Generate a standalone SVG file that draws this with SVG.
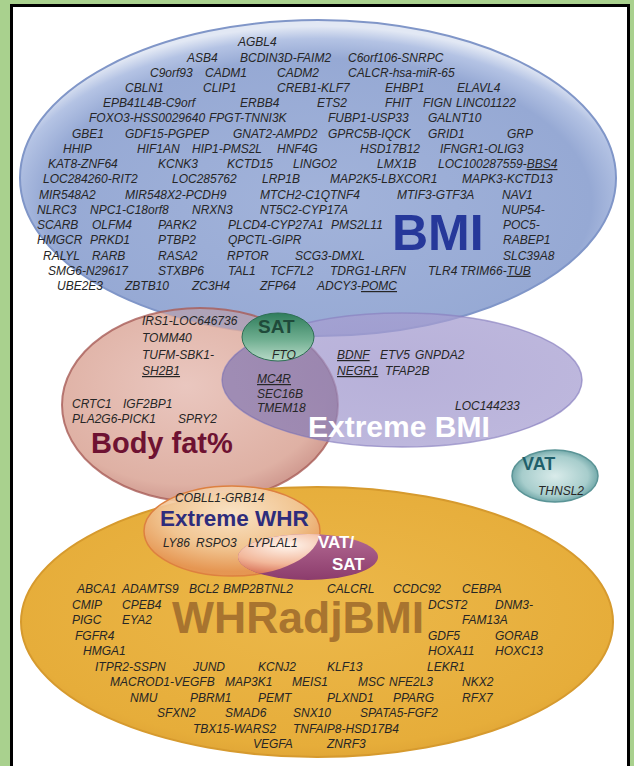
<svg xmlns="http://www.w3.org/2000/svg" width="634" height="766" viewBox="0 0 634 766">
<defs>
<style>
.g{font-family:"Liberation Sans",Arial,sans-serif;font-style:italic;font-size:12px;fill:#262626}
.u{text-decoration:underline}
.lbl{font-family:"Liberation Sans",Arial,sans-serif;font-weight:bold}
</style>
<radialGradient id="gBMI" cx="0.5" cy="0.58" r="0.56">
<stop offset="0" stop-color="#a2b3da"/>
<stop offset="0.82" stop-color="#96a9d4"/>
<stop offset="0.93" stop-color="#b4c3e4"/>
<stop offset="1" stop-color="#e2e8f4"/>
</radialGradient>
<radialGradient id="gFat" cx="0.45" cy="0.4" r="0.6">
<stop offset="0" stop-color="#e6bdb4"/>
<stop offset="0.85" stop-color="#d9a394"/>
<stop offset="1" stop-color="#c98a7e"/>
</radialGradient>
<radialGradient id="gXB" cx="0.5" cy="0.45" r="0.6">
<stop offset="0" stop-color="#9f96cc"/>
<stop offset="1" stop-color="#a8a0d2"/>
</radialGradient>
<linearGradient id="gSAT" x1="0" y1="0" x2="0" y2="1">
<stop offset="0" stop-color="#2f7d5c"/>
<stop offset="0.55" stop-color="#6fae90"/>
<stop offset="1" stop-color="#b9dbc9"/>
</linearGradient>
<radialGradient id="gVAT" cx="0.5" cy="0.5" r="0.55">
<stop offset="0" stop-color="#d9ebea"/>
<stop offset="0.7" stop-color="#a7cdcc"/>
<stop offset="1" stop-color="#5f9b9d"/>
</radialGradient>
<radialGradient id="gWHR" cx="0.5" cy="0.45" r="0.6">
<stop offset="0" stop-color="#ecb84a"/>
<stop offset="0.85" stop-color="#e6ad3a"/>
<stop offset="1" stop-color="#dca033"/>
</radialGradient>
<radialGradient id="gXW" cx="0.5" cy="0.3" r="0.65">
<stop offset="0" stop-color="#fbe8d4"/>
<stop offset="0.6" stop-color="#f2c79a"/>
<stop offset="1" stop-color="#e59354"/>
</radialGradient>
<linearGradient id="gVS" x1="0" y1="0" x2="0" y2="1">
<stop offset="0" stop-color="#b36a93"/>
<stop offset="1" stop-color="#8c3c6c"/>
</linearGradient>
<radialGradient id="gLY" cx="0.35" cy="0.25" r="0.8">
<stop offset="0" stop-color="#fff6ee"/>
<stop offset="0.5" stop-color="#f2b79a"/>
<stop offset="1" stop-color="#c8452c"/>
</radialGradient>
<clipPath id="cXW"><ellipse cx="232" cy="531" rx="88" ry="45"/></clipPath>
<clipPath id="cFat"><ellipse cx="200" cy="405" rx="138" ry="97"/></clipPath>
</defs>

<rect x="0" y="0" width="634" height="766" fill="#a9d18e"/>
<rect x="11.5" y="5.5" width="617" height="800" fill="#ffffff" stroke="#000000" stroke-width="3"/>

<g id="BMI">
<ellipse cx="318" cy="178" rx="298" ry="158" fill="url(#gBMI)" stroke="#8096c8" stroke-width="2"/>
</g>
<g id="BodyFat">
<ellipse cx="200" cy="405" rx="138" ry="97" fill="url(#gFat)" fill-opacity="0.85"/>
<ellipse cx="318" cy="178" rx="298" ry="158" fill="#8c9ccc" fill-opacity="0.5" clip-path="url(#cFat)"/>
<ellipse cx="200" cy="405" rx="138" ry="97" fill="none" stroke="#a85c58" stroke-width="2" stroke-opacity="0.8"/>
</g>
<g id="ExtremeBMI">
<ellipse cx="402" cy="380" rx="180" ry="67" fill="url(#gXB)" fill-opacity="0.75" stroke="#8a82c0" stroke-width="1.5" stroke-opacity="0.7"/>
<ellipse cx="402" cy="380" rx="180" ry="67" fill="#6a4f80" fill-opacity="0.3" clip-path="url(#cFat)"/>
</g>
<g id="WHRadjBMI">
<ellipse cx="317" cy="622" rx="296" ry="135" fill="url(#gWHR)" stroke="#d69a2e" stroke-width="2"/>
</g>
<g id="ExtremeWHR">
<ellipse cx="232" cy="531" rx="88" ry="45" fill="url(#gXW)" fill-opacity="0.9" stroke="#dd8040" stroke-width="1.5"/>
</g>
<g id="VATSAT">
<ellipse cx="308" cy="557" rx="70" ry="23" fill="url(#gVS)"/>
<ellipse cx="308" cy="557" rx="70" ry="23" fill="url(#gLY)" clip-path="url(#cXW)"/>
</g>
<g id="SAT">
<ellipse cx="278" cy="337" rx="36" ry="24" fill="url(#gSAT)" stroke="#2f6f55" stroke-width="1"/>
</g>
<g id="VAT">
<ellipse cx="555" cy="476" rx="43" ry="26" fill="url(#gVAT)" stroke="#5a9496" stroke-width="1.5"/>
</g>

<g id="connectors"/>

<g id="BMI-labels">
<text class="g" x="238" y="46">AGBL4</text>
<text class="g" y="61.5"><tspan x="187">ASB4</tspan><tspan x="240">BCDIN3D-FAIM2</tspan><tspan x="348">C6orf106-SNRPC</tspan></text>
<text class="g" y="76.5"><tspan x="150">C9orf93</tspan><tspan x="205">CADM1</tspan><tspan x="277">CADM2</tspan><tspan x="348">CALCR-hsa-miR-65</tspan></text>
<text class="g" y="91.75"><tspan x="125">CBLN1</tspan><tspan x="203">CLIP1</tspan><tspan x="277">CREB1-KLF7</tspan><tspan x="385">EHBP1</tspan><tspan x="457">ELAVL4</tspan></text>
<text class="g" y="107"><tspan x="103">EPB41L4B-C9orf</tspan><tspan x="240">ERBB4</tspan><tspan x="317">ETS2</tspan><tspan x="385">FHIT</tspan><tspan x="423">FIGN</tspan><tspan x="456">LINC01122</tspan></text>
<text class="g" y="122.25"><tspan x="89">FOXO3-HSS0029640</tspan><tspan x="209">FPGT-TNNI3K</tspan><tspan x="328">FUBP1-USP33</tspan><tspan x="428">GALNT10</tspan></text>
<text class="g" y="137.5"><tspan x="72">GBE1</tspan><tspan x="125">GDF15-PGPEP</tspan><tspan x="233">GNAT2-AMPD2</tspan><tspan x="328">GPRC5B-IQCK</tspan><tspan x="428">GRID1</tspan><tspan x="507">GRP</tspan></text>
<text class="g" y="152.75"><tspan x="63">HHIP</tspan><tspan x="137">HIF1AN</tspan><tspan x="192">HIP1-PMS2L</tspan><tspan x="277">HNF4G</tspan><tspan x="360">HSD17B12</tspan><tspan x="440">IFNGR1-OLIG3</tspan></text>
<text class="g" y="168"><tspan x="48">KAT8-ZNF64</tspan><tspan x="158">KCNK3</tspan><tspan x="227">KCTD15</tspan><tspan x="293">LINGO2</tspan><tspan x="377">LMX1B</tspan><tspan x="438">LOC100287559-</tspan><tspan class="u">BBS4</tspan></text>
<text class="g" y="183.25"><tspan x="43">LOC284260-RIT2</tspan><tspan x="172">LOC285762</tspan><tspan x="262">LRP1B</tspan><tspan x="330">MAP2K5-LBXCOR1</tspan><tspan x="462">MAPK3-KCTD13</tspan></text>
<text class="g" y="198.5"><tspan x="39">MIR548A2</tspan><tspan x="125">MIR548X2-PCDH9</tspan><tspan x="260">MTCH2-C1QTNF4</tspan><tspan x="397">MTIF3-GTF3A</tspan><tspan x="502">NAV1</tspan></text>
<text class="g" y="213.75"><tspan x="37">NLRC3</tspan><tspan x="90">NPC1-C18orf8</tspan><tspan x="192">NRXN3</tspan><tspan x="260">NT5C2-CYP17A</tspan><tspan x="502">NUP54-</tspan></text>
<text class="g" y="229"><tspan x="37">SCARB</tspan><tspan x="92">OLFM4</tspan><tspan x="158">PARK2</tspan><tspan x="228">PLCD4-CYP27A1</tspan><tspan x="331">PMS2L11</tspan><tspan x="503">POC5-</tspan></text>
<text class="g" y="244.25"><tspan x="37">HMGCR</tspan><tspan x="90">PRKD1</tspan><tspan x="158">PTBP2</tspan><tspan x="228">QPCTL-GIPR</tspan><tspan x="503">RABEP1</tspan></text>
<text class="g" y="259.5"><tspan x="43">RALYL</tspan><tspan x="92">RARB</tspan><tspan x="158">RASA2</tspan><tspan x="227">RPTOR</tspan><tspan x="295">SCG3-DMXL</tspan><tspan x="503">SLC39A8</tspan></text>
<text class="g" y="274.75"><tspan x="48">SMG6-N29617</tspan><tspan x="158">STXBP6</tspan><tspan x="228">TAL1</tspan><tspan x="270">TCF7L2</tspan><tspan x="330">TDRG1-LRFN</tspan><tspan x="428">TLR4</tspan><tspan x="460">TRIM66-</tspan><tspan class="u">TUB</tspan></text>
<text class="g" y="290"><tspan x="57">UBE2E3</tspan><tspan x="125">ZBTB10</tspan><tspan x="192">ZC3H4</tspan><tspan x="260">ZFP64</tspan><tspan x="317">ADCY3-</tspan><tspan class="u">POMC</tspan></text>
<text class="lbl" x="392" y="250" font-size="50" fill="#26389a">BMI</text>
</g>

<g id="mid-labels">
<text class="g" x="142" y="325">IRS1-LOC646736</text>
<text class="g" x="142" y="342">TOMM40</text>
<text class="g" x="142" y="359">TUFM-SBK1-</text>
<text class="g u" x="142" y="375">SH2B1</text>
<text class="lbl" x="258" y="333" font-size="19" fill="#1f4a3a">SAT</text>
<text class="g" x="272" y="359">FTO</text>
<text class="g" y="359"><tspan x="337" class="u">BDNF</tspan><tspan x="380">ETV5</tspan><tspan x="415">GNPDA2</tspan></text>
<text class="g" y="375"><tspan x="337" class="u">NEGR1</tspan><tspan x="385">TFAP2B</tspan></text>
<text class="g u" x="257" y="383">MC4R</text>
<text class="g" x="257" y="398">SEC16B</text>
<text class="g" x="257" y="412">TMEM18</text>
<text class="g" y="408"><tspan x="72">CRTC1</tspan><tspan x="123">IGF2BP1</tspan></text>
<text class="g" y="423"><tspan x="72">PLA2G6-PICK1</tspan><tspan x="178">SPRY2</tspan></text>
<text class="g" x="455" y="410">LOC144233</text>
<text class="lbl" x="308" y="437" font-size="30" fill="#ffffff">Extreme BMI</text>
<text class="lbl" x="91" y="453" font-size="29" fill="#6e1232">Body fat%</text>
<text class="lbl" x="522" y="470" font-size="18" fill="#1f5f6a">VAT</text>
<text class="g" x="538" y="495" font-size="11.5">THNSL2</text>
</g>

<g id="WHR-labels">
<text class="g" x="175" y="502">COBLL1-GRB14</text>
<text class="lbl" x="160" y="526" font-size="22.5" fill="#2e2c7c">Extreme WHR</text>
<text class="g" y="547"><tspan x="163">LY86</tspan><tspan x="196">RSPO3</tspan><tspan x="248">LYPLAL1</tspan></text>
<text class="lbl" x="318" y="548" font-size="17" fill="#ffffff">VAT/</text>
<text class="lbl" x="332" y="570" font-size="17" fill="#ffffff">SAT</text>
<text class="lbl" x="172" y="633" font-size="44.5" fill="#a8742f">WHRadjBMI</text>
<text class="g" y="593"><tspan x="77">ABCA1</tspan><tspan x="122">ADAMTS9</tspan><tspan x="189">BCL2</tspan><tspan x="223">BMP2BTNL2</tspan><tspan x="327">CALCRL</tspan><tspan x="393">CCDC92</tspan><tspan x="462">CEBPA</tspan></text>
<text class="g" y="608.5"><tspan x="72">CMIP</tspan><tspan x="122">CPEB4</tspan><tspan x="428">DCST2</tspan><tspan x="495">DNM3-</tspan></text>
<text class="g" y="624"><tspan x="72">PIGC</tspan><tspan x="122">EYA2</tspan><tspan x="462">FAM13A</tspan></text>
<text class="g" y="639.5"><tspan x="75">FGFR4</tspan><tspan x="428">GDF5</tspan><tspan x="495">GORAB</tspan></text>
<text class="g" y="655"><tspan x="83">HMGA1</tspan><tspan x="428">HOXA11</tspan><tspan x="495">HOXC13</tspan></text>
<text class="g" y="670.5"><tspan x="95">ITPR2-SSPN</tspan><tspan x="193">JUND</tspan><tspan x="258">KCNJ2</tspan><tspan x="327">KLF13</tspan><tspan x="427">LEKR1</tspan></text>
<text class="g" y="686"><tspan x="110">MACROD1-VEGFB</tspan><tspan x="225">MAP3K1</tspan><tspan x="292">MEIS1</tspan><tspan x="358">MSC</tspan><tspan x="389">NFE2L3</tspan><tspan x="462">NKX2</tspan></text>
<text class="g" y="701.5"><tspan x="130">NMU</tspan><tspan x="190">PBRM1</tspan><tspan x="258">PEMT</tspan><tspan x="327">PLXND1</tspan><tspan x="393">PPARG</tspan><tspan x="462">RFX7</tspan></text>
<text class="g" y="717"><tspan x="157">SFXN2</tspan><tspan x="225">SMAD6</tspan><tspan x="293">SNX10</tspan><tspan x="360">SPATA5-FGF2</tspan></text>
<text class="g" y="732.5"><tspan x="193">TBX15-WARS2</tspan><tspan x="293">TNFAIP8-HSD17B4</tspan></text>
<text class="g" y="748"><tspan x="253">VEGFA</tspan><tspan x="327">ZNRF3</tspan></text>
</g>
</svg>
